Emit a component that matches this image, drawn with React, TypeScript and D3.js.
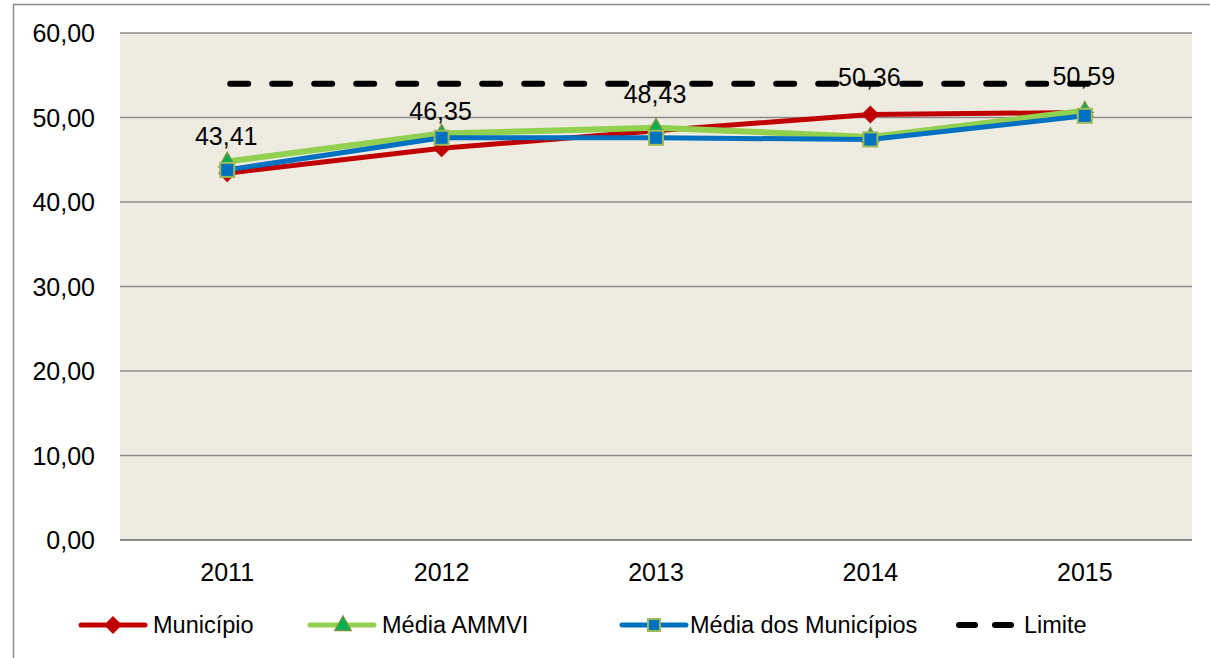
import React from "react";
import * as d3 from "d3";

const categories = ["2011", "2012", "2013", "2014", "2015"];
const municipio = [43.41, 46.35, 48.43, 50.36, 50.59];
const mediaAMMVI = [44.8, 48.1, 48.8, 47.7, 50.8];
const mediaMunicipios = [43.8, 47.6, 47.6, 47.4, 50.2];
const limite = [54, 54, 54, 54, 54];
const yTicks = [0, 10, 20, 30, 40, 50, 60];
const labels = ["43,41", "46,35", "48,43", "50,36", "50,59"];

const W = 1210;
const H = 658;
const left = 120;
const right = 1192;
const top = 33;
const bottom = 540;
const FONT = "'Liberation Sans', Arial, sans-serif";
const FS = 25;
const LFS = 23.5;

const RED = "#C00000";
const GREEN = "#92D050";
const BLUE = "#0070C0";

const fmt = (v: number) => v.toFixed(2).replace(".", ",");

function Diamond({ x, y, r = 9 }: { x: number; y: number; r?: number }) {
  return (
    <path
      d={`M${x},${y - r}L${x + r},${y}L${x},${y + r}L${x - r},${y}Z`}
      fill={RED}
    />
  );
}
function Triangle({ x, y, r = 9 }: { x: number; y: number; r?: number }) {
  return (
    <path
      d={`M${x},${y - r}L${x + r * 0.9},${y + r * 0.6}L${x - r * 0.9},${y + r * 0.6}Z`}
      fill="#00B050"
      stroke="#77933C"
      strokeWidth={1.5}
    />
  );
}
function Square({ x, y, s = 14 }: { x: number; y: number; s?: number }) {
  return (
    <rect
      x={x - s / 2}
      y={y - s / 2}
      width={s}
      height={s}
      fill={BLUE}
      stroke="#9BBB59"
      strokeWidth={2}
    />
  );
}

export default function App() {
  const x = d3.scaleBand<string>().domain(categories).range([left, right]);
  const cx = (c: string) => (x(c) as number) + x.bandwidth() / 2;
  const y = d3.scaleLinear().domain([0, 60]).range([bottom, top]);
  const line = d3
    .line<number>()
    .x((_, i) => cx(categories[i]))
    .y((d) => y(d));

  const legendY = 625;
  const legend = [
    { x0: 81, tx: 153, label: "Município", kind: "red" },
    { x0: 310, tx: 382, label: "Média AMMVI", kind: "green" },
    { x0: 622, tx: 690, label: "Média dos Municípios", kind: "blue" },
  ];

  return (
    <svg
      width={W}
      height={H}
      style={{ position: "absolute", left: 0, top: 0, background: "#fff" }}
      fontFamily={FONT}
    >
      <rect x={0} y={0} width={W} height={H} fill="#fff" />
      <path d={`M13.5,${H}V4.5H${W}`} fill="none" stroke="#8c8c8c" strokeWidth={1.5} />
      <rect x={left} y={top} width={right - left} height={bottom - top} fill="#EEEBE0" />
      {yTicks.map((t) => (
        <g key={t}>
          <line
            x1={left}
            x2={right}
            y1={y(t)}
            y2={y(t)}
            stroke="#8c8c8c"
            strokeWidth={t === 0 ? 2 : 1.5}
          />
          <text x={95} y={y(t)} dy="0.36em" textAnchor="end" fontSize={FS} fill="#000">
            {fmt(t)}
          </text>
        </g>
      ))}
      {categories.map((c) => (
        <text key={c} x={cx(c)} y={581} textAnchor="middle" fontSize={FS} fill="#000">
          {c}
        </text>
      ))}

      <path d={line(municipio) || ""} fill="none" stroke={RED} strokeWidth={5} />
      {municipio.map((v, i) => (
        <Diamond key={i} x={cx(categories[i])} y={y(v)} />
      ))}
      {municipio.map((v, i) => (
        <text
          key={"l" + i}
          x={cx(categories[i]) - 1}
          y={y(v) - 28}
          textAnchor="middle"
          fontSize={FS}
          fill="#000"
        >
          {labels[i]}
        </text>
      ))}
      <path d={line(mediaAMMVI) || ""} fill="none" stroke={GREEN} strokeWidth={6} />
      {mediaAMMVI.map((v, i) => (
        <Triangle key={i} x={cx(categories[i])} y={y(v)} />
      ))}
      <path d={line(mediaMunicipios) || ""} fill="none" stroke={BLUE} strokeWidth={5} />
      {mediaMunicipios.map((v, i) => (
        <Square key={i} x={cx(categories[i])} y={y(v)} />
      ))}
      <path
        d={line(limite) || ""}
        fill="none"
        stroke="#000"
        strokeWidth={6}
        strokeDasharray="18 24"
        strokeLinecap="round"
        transform="translate(3,0)"
      />

      {legend.map((l) => (
        <g key={l.label}>
          <line
            x1={l.x0}
            x2={l.x0 + 64}
            y1={legendY}
            y2={legendY}
            stroke={l.kind === "red" ? RED : l.kind === "green" ? GREEN : BLUE}
            strokeWidth={5}
            strokeLinecap="round"
          />
          {l.kind === "red" && <Diamond x={l.x0 + 32} y={legendY} />}
          {l.kind === "green" && <Triangle x={l.x0 + 33} y={legendY} />}
          {l.kind === "blue" && <Square x={l.x0 + 32} y={legendY} s={12} />}
          <text x={l.tx} y={legendY + 8} fontSize={LFS} fill="#000">
            {l.label}
          </text>
        </g>
      ))}
      <line x1={959} x2={975} y1={legendY} y2={legendY} stroke="#000" strokeWidth={6} strokeLinecap="round" />
      <line x1={995} x2={1011} y1={legendY} y2={legendY} stroke="#000" strokeWidth={6} strokeLinecap="round" />
      <text x={1024} y={legendY + 8} fontSize={LFS} fill="#000">
        Limite
      </text>
    </svg>
  );
}
